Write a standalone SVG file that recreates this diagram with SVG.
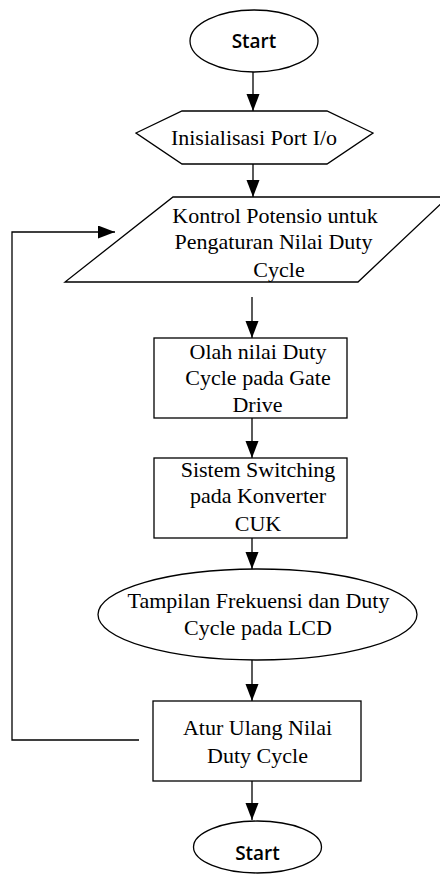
<svg xmlns="http://www.w3.org/2000/svg" width="440" height="874" viewBox="0 0 440 874">
<style>
.shape{fill:#fff;stroke:#000;stroke-width:1.3}
.conn{fill:none;stroke:#000;stroke-width:1.3}
.t{font-family:"Liberation Serif","Times New Roman",serif;font-size:22px;fill:#000;text-anchor:middle}
.s{font-family:"Open Sans","DejaVu Sans",sans-serif;font-size:19px;font-weight:600;fill:#000;text-anchor:middle}
</style>
<defs>
<marker id="ah" markerUnits="userSpaceOnUse" markerWidth="18" markerHeight="14" refX="17" refY="6.5" orient="auto">
<path d="M0,0 L17,6.5 L0,13 Z" fill="#000"/>
</marker>
</defs>
<rect width="440" height="874" fill="#fff"/>
<g id="connectors">
<line class="conn" x1="253" y1="72" x2="253" y2="111" marker-end="url(#ah)"/>
<line class="conn" x1="253" y1="164" x2="253" y2="197" marker-end="url(#ah)"/>
<line class="conn" x1="252" y1="297" x2="252" y2="338" marker-end="url(#ah)"/>
<line class="conn" x1="252" y1="418" x2="252" y2="458" marker-end="url(#ah)"/>
<line class="conn" x1="252" y1="538" x2="252" y2="569" marker-end="url(#ah)"/>
<line class="conn" x1="252" y1="660" x2="252" y2="701" marker-end="url(#ah)"/>
<line class="conn" x1="252" y1="781" x2="252" y2="820" marker-end="url(#ah)"/>
<polyline class="conn" points="139,740 12,740 12,232 115,232" marker-end="url(#ah)"/>
</g>
<g id="start">
<ellipse class="shape" cx="254" cy="41" rx="64" ry="31"/>
<text class="s" x="254" y="48">Start</text>
</g>
<g id="init">
<polygon class="shape" points="136,133 182,111 327,111 373,133 327,164 182,164"/>
<text class="t" x="254" y="145">Inisialisasi Port I/o</text>
</g>
<g id="input">
<polygon class="shape" points="173,197 448,197 358,282 65,282"/>
<text class="t" x="275" y="223">Kontrol Potensio untuk</text>
<text class="t" x="273.5" y="249">Pengaturan Nilai Duty</text>
<text class="t" x="279" y="277">Cycle</text>
</g>
<g id="olah">
<rect class="shape" x="154" y="338" width="193" height="80"/>
<text class="t" x="258" y="359">Olah nilai Duty</text>
<text class="t" x="258" y="385">Cycle pada Gate</text>
<text class="t" x="257.5" y="412">Drive</text>
</g>
<g id="switching">
<rect class="shape" x="154" y="458" width="193" height="80"/>
<text class="t" x="258" y="477">Sistem Switching</text>
<text class="t" x="258" y="503">pada Konverter</text>
<text class="t" x="258" y="531">CUK</text>
</g>
<g id="display">
<ellipse class="shape" cx="257.5" cy="614.5" rx="159.5" ry="45.5"/>
<text class="t" x="258.5" y="608">Tampilan Frekuensi dan Duty</text>
<text class="t" x="258" y="635">Cycle pada LCD</text>
</g>
<g id="reset">
<rect class="shape" x="153" y="701" width="208" height="80"/>
<text class="t" x="257.5" y="735">Atur Ulang Nilai</text>
<text class="t" x="257.5" y="763">Duty Cycle</text>
</g>
<g id="end">
<ellipse class="shape" cx="257.5" cy="847" rx="64" ry="26"/>
<text class="s" x="257.5" y="860">Start</text>
</g>
</svg>
